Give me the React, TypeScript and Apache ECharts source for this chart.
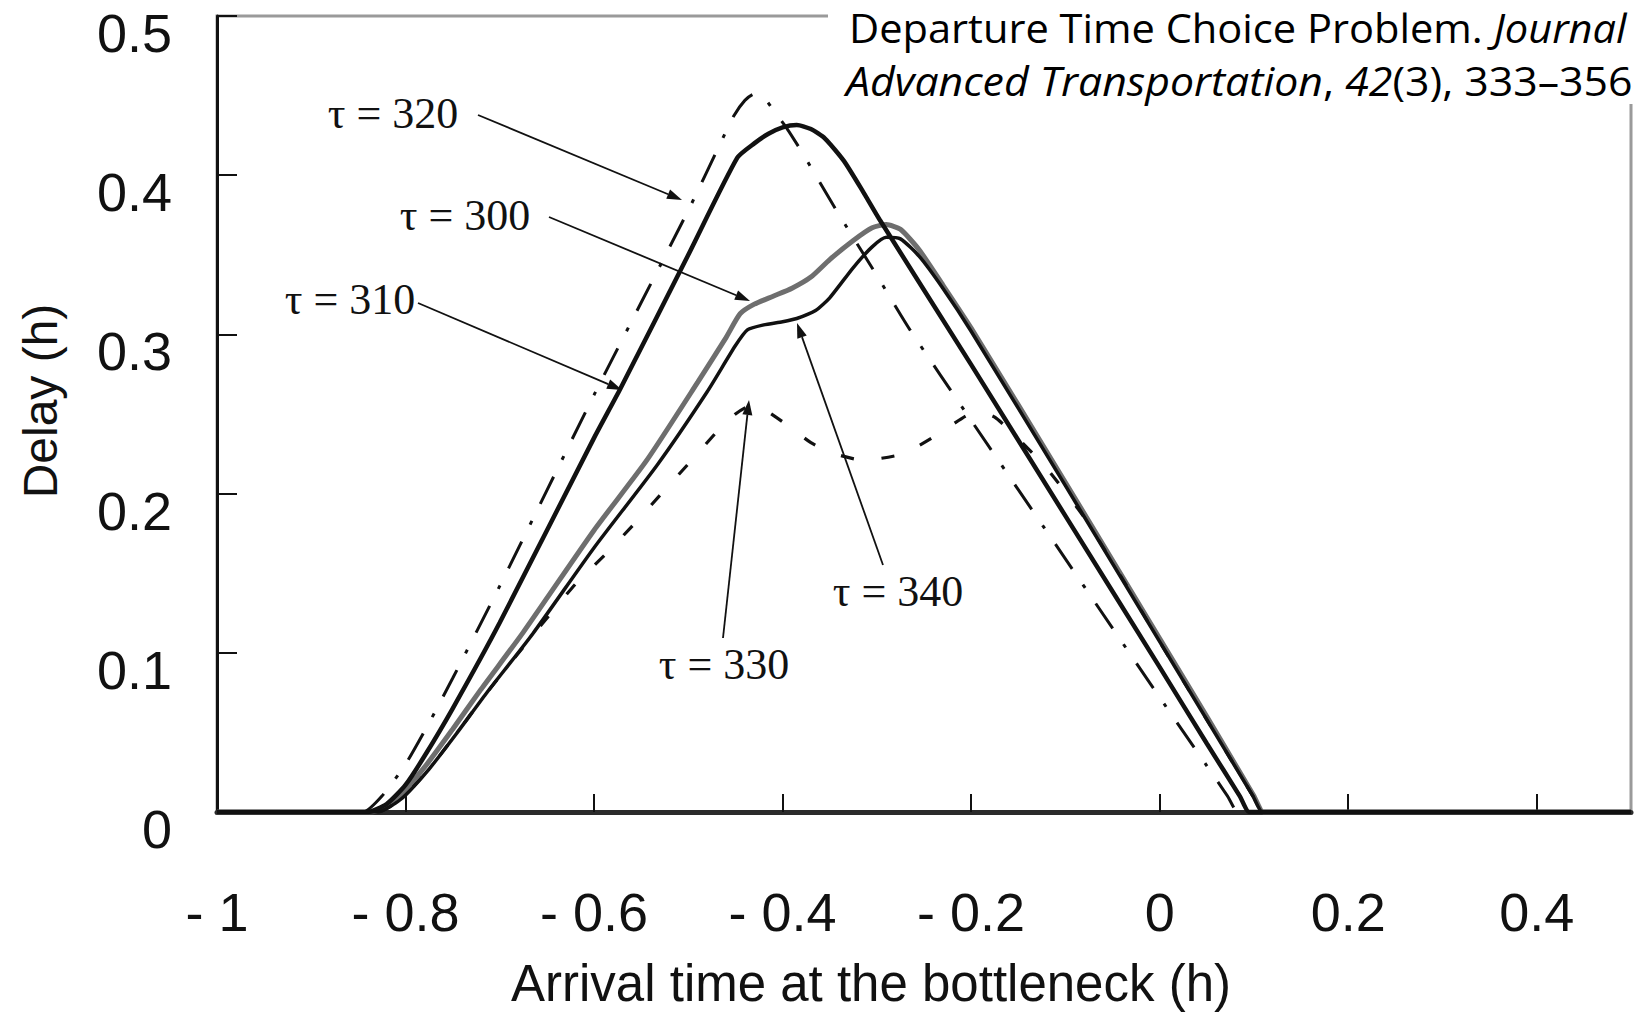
import React, { useEffect, useRef } from "react";
import * as echarts from "echarts";

// ---- axis ticks ----
const xTickValues = [-1, -0.8, -0.6, -0.4, -0.2, 0, 0.2, 0.4];
const xInnerTicks = [-0.8, -0.6, -0.4, -0.2, 0, 0.2, 0.4];
const yTickValues = [0, 0.1, 0.2, 0.3, 0.4, 0.5];

// ---- series (arrival time h, delay h) ----
const tau300: [number, number][] = [
  [-1, 0], [-0.86, 0], [-0.835, 0], [-0.81, 0.008], [-0.78, 0.028], [-0.75, 0.052], [-0.72, 0.077],
  [-0.675, 0.113], [-0.6, 0.177], [-0.544, 0.221], [-0.49, 0.27], [-0.46, 0.298],
  [-0.445, 0.313], [-0.43, 0.319], [-0.41, 0.324], [-0.39, 0.329], [-0.37, 0.336],
  [-0.35, 0.347], [-0.325, 0.359], [-0.305, 0.367], [-0.29, 0.369], [-0.275, 0.366],
  [-0.255, 0.353], [-0.23, 0.331], [-0.2, 0.304], [-0.1, 0.207], [0, 0.109],
  [0.05, 0.06], [0.1, 0.01], [0.11, 0], [0.125, 0], [0.5, 0],
];
const tau310: [number, number][] = [
  [-1, 0], [-0.86, 0], [-0.84, 0], [-0.82, 0.005], [-0.8, 0.017], [-0.78, 0.035], [-0.75, 0.065],
  [-0.7, 0.119], [-0.6, 0.235], [-0.572, 0.266], [-0.5, 0.35], [-0.448, 0.411],
  [-0.43, 0.42], [-0.415, 0.426], [-0.4, 0.43], [-0.385, 0.4315], [-0.37, 0.429],
  [-0.355, 0.423], [-0.335, 0.409], [-0.315, 0.39], [-0.297, 0.372], [-0.2, 0.281],
  [-0.1, 0.186], [0, 0.091], [0.05, 0.043], [0.085, 0.01], [0.095, 0], [0.11, 0], [0.5, 0],
];
const tau320: [number, number][] = [
  [-1, 0], [-0.865, 0], [-0.845, 0], [-0.825, 0.01], [-0.8, 0.03], [-0.775, 0.056], [-0.75, 0.084],
  [-0.7, 0.142], [-0.6, 0.262], [-0.5, 0.378], [-0.466, 0.42], [-0.452, 0.437],
  [-0.44, 0.447], [-0.43, 0.451], [-0.42, 0.449], [-0.41, 0.441], [-0.395, 0.429],
  [-0.38, 0.415], [-0.343, 0.378], [-0.3, 0.337], [-0.265, 0.303], [-0.2, 0.246],
  [-0.1, 0.159], [0, 0.072], [0.05, 0.029], [0.072, 0.01], [0.083, 0], [0.1, 0], [0.5, 0],
];
const tau330: [number, number][] = [
  [-1, 0], [-0.855, 0], [-0.83, 0], [-0.805, 0.008], [-0.775, 0.027], [-0.745, 0.05], [-0.715, 0.074],
  [-0.665, 0.111], [-0.62, 0.143], [-0.586, 0.163], [-0.559, 0.18], [-0.53, 0.199],
  [-0.498, 0.22], [-0.468, 0.24], [-0.45, 0.25], [-0.435, 0.255], [-0.42, 0.253],
  [-0.395, 0.243], [-0.37, 0.232], [-0.35, 0.226], [-0.315, 0.221], [-0.272, 0.225],
  [-0.233, 0.238], [-0.205, 0.249], [-0.19, 0.251], [-0.175, 0.248], [-0.156, 0.238],
  [-0.12, 0.216], [-0.08, 0.185], [-0.04, 0.147], [0, 0.107], [0.05, 0.058],
  [0.099, 0.01], [0.109, 0], [0.125, 0], [0.5, 0],
];
const tau340: [number, number][] = [
  [-1, 0], [-0.855, 0], [-0.83, 0], [-0.805, 0.008], [-0.775, 0.027], [-0.745, 0.05], [-0.715, 0.074],
  [-0.665, 0.112], [-0.6, 0.166], [-0.533, 0.218], [-0.48, 0.264], [-0.45, 0.293],
  [-0.437, 0.303], [-0.42, 0.306], [-0.4, 0.308], [-0.385, 0.31], [-0.365, 0.315],
  [-0.35, 0.323], [-0.325, 0.342], [-0.305, 0.355], [-0.29, 0.361], [-0.275, 0.36],
  [-0.255, 0.349], [-0.23, 0.329], [-0.2, 0.302], [-0.1, 0.205], [0, 0.107],
  [0.05, 0.058], [0.099, 0.01], [0.109, 0], [0.125, 0], [0.5, 0],
];

const annotationLabels = ["τ = 320", "τ = 300", "τ = 310", "τ = 340", "τ = 330"];

// layout of the annotations (pixels)
const ANN_LAYOUT = [
  { cx: 393, cy: 113, from: [478, 115], to: [682, 200] },
  { cx: 465, cy: 215, from: [549, 217], to: [750, 301] },
  { cx: 350, cy: 299, from: [418, 303], to: [622, 390] },
  { cx: 898, cy: 591, from: [883, 565], to: [797, 323] },
  { cx: 724, cy: 664, from: [723, 638], to: [749, 400] },
];

const TICK_FONT = "'Liberation Sans', Arial, sans-serif";
const NAME_FONT = "'Liberation Sans', Arial, sans-serif";
const CITE_FONT = "'Open Sans', sans-serif";

function fmtX(v: number) {
  const r = Math.round(v * 10) / 10;
  if (r < 0) return "- " + String(Math.abs(r));
  return String(r);
}

function arrow(from: number[], to: number[]) {
  const [x1, y1] = from;
  const [x2, y2] = to;
  const ang = Math.atan2(y2 - y1, x2 - x1);
  const L = 15, W = 5;
  const bx = x2 - L * Math.cos(ang);
  const by = y2 - L * Math.sin(ang);
  const px = -Math.sin(ang), py = Math.cos(ang);
  return [
    { type: "line", z: 110, shape: { x1, y1, x2: bx, y2: by }, style: { stroke: "#111", lineWidth: 1.8 } },
    {
      type: "polygon", z: 110,
      shape: { points: [[x2, y2], [bx + px * W, by + py * W], [bx - px * W, by - py * W]] },
      style: { fill: "#111" },
    },
  ];
}

export default function App() {
  const ref = useRef<HTMLDivElement>(null);
  useEffect(() => {
    document.body.style.margin = "0";
    const chart = echarts.init(ref.current!, undefined, { renderer: "svg" });

    const mk = (name: string, data: [number, number][], ls: any, z: number) => ({
      name, type: "line", data, showSymbol: false, symbol: "none",
      smooth: 0.2, z, lineStyle: ls, silent: true,
    });

    const citeRich = {
      r: { fontFamily: CITE_FONT, fontSize: 40, lineHeight: 40, fill: "#000" },
      i: { fontFamily: CITE_FONT, fontSize: 40, lineHeight: 40, fontStyle: "italic", fill: "#000" },
    };

    const graphics: any[] = [
      { type: "rect", z: 100, shape: { x: 828, y: 0, width: 820, height: 104 }, style: { fill: "#fff" } },
      {
        type: "text", z: 105, x: 849, y: 27, scaleX: 1.04,
        style: {
          text: "{r|Departure Time Choice Problem. }{i|Journal}",
          verticalAlign: "middle", rich: citeRich,
        },
      },
      {
        type: "text", z: 105, x: 846, y: 81, scaleX: 1.07,
        style: {
          text: "{i|Advanced Transportation}{r|, }{i|42}{r|(3), 333–356}",
          verticalAlign: "middle", rich: citeRich,
        },
      },
    ];
    ANN_LAYOUT.forEach((a, i) => {
      graphics.push({
        type: "text", z: 110, x: a.cx, y: a.cy,
        style: {
          text: annotationLabels[i], fontFamily: "'Liberation Serif', 'Times New Roman', serif",
          fontSize: 44, fill: "#111", align: "center", verticalAlign: "middle",
        },
      });
      graphics.push(...arrow(a.from, a.to));
    });

    chart.setOption({
      animation: false,
      backgroundColor: "#fff",
      grid: {
        left: 217, right: 7, top: 16, bottom: 200, containLabel: false, outerBoundsMode: "none",
        show: true, borderColor: "#9a9a9a", borderWidth: 3, backgroundColor: "transparent",
      },
      xAxis: {
        type: "value", min: -1, max: 0.5,
        axisLine: { show: true, onZero: false, lineStyle: { color: "#2b2b2b", width: 5 } },
        axisTick: { show: true, inside: true, length: 18, customValues: xInnerTicks, lineStyle: { color: "#111", width: 2 } },
        axisLabel: {
          customValues: xTickValues, formatter: (v: number) => fmtX(v), margin: 71,
          fontFamily: TICK_FONT, fontSize: 54, lineHeight: 58, color: "#111",
        },
        splitLine: { show: false },
        name: "Arrival time at the bottleneck (h)", nameLocation: "middle", nameGap: 146,
        nameTextStyle: { fontFamily: NAME_FONT, fontSize: 51, lineHeight: 51, color: "#111", padding: [0, 106, 0, 0] },
      },
      yAxis: {
        type: "value", min: 0, max: 0.5, interval: 0.1,
        axisLine: { show: true, onZero: false, lineStyle: { color: "#111", width: 3 } },
        axisTick: { show: true, inside: true, length: 20, lineStyle: { color: "#111", width: 2 } },
        axisLabel: {
          customValues: yTickValues,
          formatter: (v: number) => String(Math.round(v * 10) / 10), margin: 45,
          fontFamily: TICK_FONT, fontSize: 54, lineHeight: 34, verticalAlign: "top", color: "#111",
        },
        splitLine: { show: false },
        name: "Delay (h)", nameLocation: "middle", nameGap: 153,
        nameTextStyle: { fontFamily: NAME_FONT, fontSize: 48, lineHeight: 48, color: "#111", padding: [0, 0, 0, 26] },
      },
      series: [
        mk("τ = 300", tau300, { color: "#6e6e6e", width: 5 }, 2),
        mk("τ = 330", tau330, { color: "#111", width: 3.2, type: [13, 28] }, 3),
        mk("τ = 320", tau320, { color: "#111", width: 3, type: [30, 19, 4, 19] }, 3),
        mk("τ = 310", tau310, { color: "#111", width: 4.5 }, 4),
        mk("τ = 340", tau340, { color: "#111", width: 3.5 }, 4),
      ],
      graphic: graphics,
    });
    return () => chart.dispose();
  }, []);
  return <div ref={ref} style={{ width: 1638, height: 1012 }} />;
}
